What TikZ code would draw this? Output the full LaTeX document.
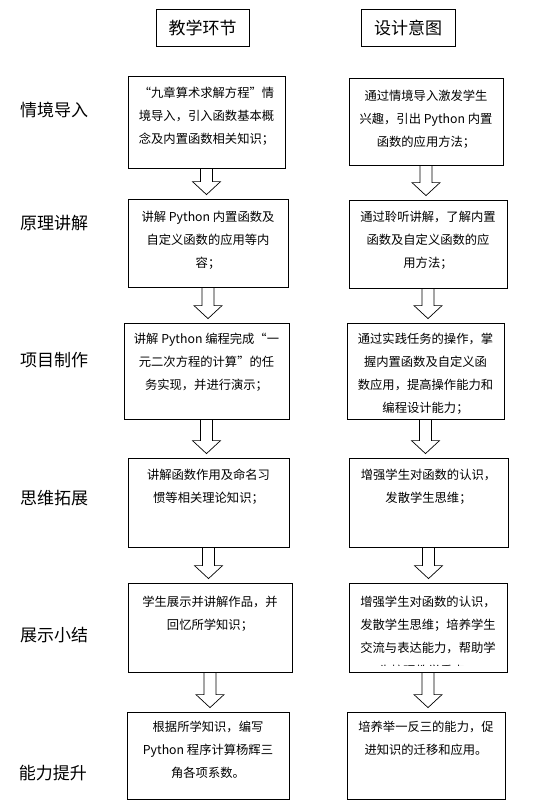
\documentclass[tikz,border=0pt]{standalone}
\usepackage{fontspec}
\setmainfont{Noto Sans CJK SC}
\usetikzlibrary{calc}

\tikzset{
  cell/.style={draw, line width=0.8pt, inner sep=0pt},
  txt/.style={anchor=north, inner sep=0pt, align=center, font=\fontsize{12.3}{23}\selectfont},
  stage/.style={font=\fontsize{17}{20}\selectfont},
  hollow/.style={draw, line width=0.7pt, to path={let \p1=(\tikztostart), \p2=(\tikztotarget) in
    (\x1-6pt,\y1) -- (\x1-6pt,\y2+17pt) -- (\x1-14pt,\y2+17pt) -- (\x1,\y2+4pt)
    -- (\x1+14pt,\y2+17pt) -- (\x1+6pt,\y2+17pt) -- (\x1+6pt,\y1) -- cycle}}
}

\begin{document}
\begin{tikzpicture}[x=1pt,y=-1pt]
\useasboundingbox (0,0) rectangle (535,806);
% column heads
\node[cell, stage, minimum width=93pt, minimum height=37pt] (teach) at (202.5,27.5) {教学环节};
\node[cell, stage, minimum width=94pt, minimum height=37pt] (intent) at (408,27.5) {设计意图};
% stages
\node[stage] (s1) at (54,110) {情境导入};
\node[stage] (s2) at (54,223) {原理讲解};
\node[stage] (s3) at (54,360) {项目制作};
\node[stage] (s4) at (54,498) {思维拓展};
\node[stage] (s5) at (54,635) {展示小结};
\node[stage] (s6) at (53,773) {能力提升};
% left column
\node[cell, minimum width=157pt, minimum height=92pt] (l1) at (206.5,122) {};
\node[txt] (l1t) at ([yshift=-11.5pt]l1.north) {“九章算术求解方程”情\\境导入，引入函数基本概\\念及内置函数相关知识；};
\node[cell, minimum width=160pt, minimum height=88pt] (l2) at (208,243) {};
\node[txt] (l2t) at ([yshift=-12.5pt]l2.north) {讲解 Python 内置函数及\\自定义函数的应用等内\\容；};
\node[cell, minimum width=165pt, minimum height=96pt] (l3) at (206.5,371) {};
\node[txt] (l3t) at ([yshift=-10.5pt]l3.north) {讲解 Python 编程完成“一\\元二次方程的计算”的任\\务实现，并进行演示；};
\node[cell, minimum width=161pt, minimum height=89pt] (l4) at (208.5,502.5) {};
\node[txt] (l4t) at ([yshift=-11.5pt]l4.north) {讲解函数作用及命名习\\惯等相关理论知识；};
\node[cell, minimum width=164pt, minimum height=89pt] (l5) at (210,627.5) {};
\node[txt] (l5t) at ([yshift=-13.5pt]l5.north) {学生展示并讲解作品，并\\回忆所学知识；};
\node[cell, minimum width=162pt, minimum height=87pt] (l6) at (208,755.5) {};
\node[txt] (l6t) at ([yshift=-9.5pt]l6.north) {根据所学知识，编写\\Python 程序计算杨辉三\\角各项系数。};
% right column
\node[cell, minimum width=154pt, minimum height=87pt] (r1) at (426,121.5) {};
\node[txt] (r1t) at ([yshift=-12pt]r1.north) {通过情境导入激发学生\\兴趣，引出 Python 内置\\函数的应用方法；};
\node[cell, minimum width=158pt, minimum height=88pt] (r2) at (428,244) {};
\node[txt] (r2t) at ([yshift=-11.5pt]r2.north) {通过聆听讲解，了解内置\\函数及自定义函数的应\\用方法；};
\node[cell, minimum width=157pt, minimum height=96pt] (r3) at (425.5,371) {};
\node[txt] (r3t) at ([yshift=-10.5pt]r3.north) {通过实践任务的操作，掌\\握内置函数及自定义函\\数应用，提高操作能力和\\编程设计能力；};
\node[cell, minimum width=159pt, minimum height=89pt] (r4) at (428.5,502.5) {};
\node[txt] (r4t) at ([yshift=-11.5pt]r4.north) {增强学生对函数的认识，\\发散学生思维；};
\node[cell, minimum width=158pt, minimum height=89pt] (r5) at (428,627.5) {};
\begin{scope}
\clip (349,583) rectangle (507,665);
\node[txt] (r5t) at ([yshift=-13.5pt]r5.north) {增强学生对函数的认识，\\发散学生思维；培养学生\\交流与表达能力，帮助学\\生梳理教学重点；};
\end{scope}
\node[cell, minimum width=158pt, minimum height=87pt] (r6) at (426,755.5) {};
\node[txt] (r6t) at ([yshift=-9.5pt]r6.north) {培养举一反三的能力，促\\进知识的迁移和应用。};
% hollow arrows
\draw[hollow] (l1.south) to (l2.north);
\draw[hollow] (l2.south) to (l3.north);
\draw[hollow] (l3.south) to (l4.north);
\draw[hollow] (l4.south) to (l5.north);
\draw[hollow] (l5.south) to (l6.north);
\draw[hollow] (r1.south) to (r2.north);
\draw[hollow] (r2.south) to (r3.north);
\draw[hollow] (r3.south) to (r4.north);
\draw[hollow] (r4.south) to (r5.north);
\draw[hollow] (r5.south) to (r6.north);
\end{tikzpicture}
\end{document}
